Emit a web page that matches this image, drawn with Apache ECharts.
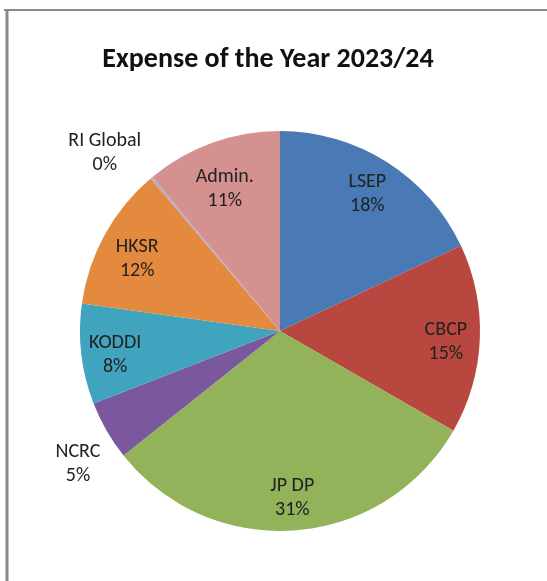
<!DOCTYPE html>
<html>
<head>
<meta charset="utf-8">
<title>Expense of the Year 2023/24</title>
<script src="https://cdn.jsdelivr.net/npm/echarts@6/dist/echarts.min.js"></script>
<style>
  html, body { margin: 0; padding: 0; background: #ffffff; }
  #chart { width: 547px; height: 581px; }
</style>
</head>
<body>
<div id="chart"></div>
<script>
// Expense shares (percent of the year's total), clockwise from 12 o'clock
const categories = ['LSEP', 'CBCP', 'JP DP', 'NCRC', 'KODDI', 'HKSR', 'RI Global', 'Admin.'];
const values = [18.0, 15.3, 31.0, 4.8, 8.1, 11.6, 0.2, 11.0];
const colors = ['#4a7ab6', '#b8473f', '#93b35a', '#7b579d', '#41a4bf', '#e48a3f', '#b9a9cc', '#d4918f'];
// Slices whose labels sit outside the pie
const outsideLabels = ['NCRC', 'RI Global'];

const titleText = 'Expense of the Year 2023/24';
const FONT = 'Carlito, Lato, "Noto Sans", sans-serif';

const center = [280, 331];
const R = 200;

// Small nudges so each label block sits nicely within its slice
const labelNudge = {
  'LSEP': [0, 1], 'CBCP': [3, 4], 'JP DP': [0, 4], 'NCRC': [13, 9],
  'KODDI': [-3, 5], 'HKSR': [0, 7], 'RI Global': [-16, 12], 'Admin.': [0, 11]
};

const pctLabel = p => p.name + '\n' + Math.round(p.percent) + '%';

const pieData = categories.map((name, i) => ({
  name, value: values[i], itemStyle: { color: colors[i] }
}));

// Label-only rings share the pie's data so labels follow the slice angles
const insideLabelData = categories.map((name, i) => ({
  name, value: values[i],
  label: { show: !outsideLabels.includes(name), offset: labelNudge[name] }
}));
const outsideLabelData = categories.map((name, i) => ({
  name, value: values[i],
  label: { show: outsideLabels.includes(name), offset: labelNudge[name] }
}));

const labelStyle = {
  position: 'inside',
  formatter: pctLabel,
  fontFamily: FONT,
  fontSize: 20,
  lineHeight: 24,
  color: '#222222'
};

const chart = echarts.init(document.getElementById('chart'), null, { renderer: 'canvas' });

chart.setOption({
  backgroundColor: '#ffffff',
  animation: false,
  title: {
    text: titleText,
    left: 263,
    top: 41,
    textAlign: 'center',
    textStyle: { fontFamily: FONT, fontSize: 28, fontWeight: 'bold', color: '#111111' }
  },
  graphic: [
    { type: 'line', shape: { x1: 4, y1: 10, x2: 547, y2: 10 }, style: { stroke: '#8a8a8a', lineWidth: 2 } },
    { type: 'line', shape: { x1: 7, y1: 9, x2: 7, y2: 581 }, style: { stroke: '#8a8a8a', lineWidth: 3 } }
  ],
  series: [
    {
      type: 'pie',
      center: center,
      radius: R,
      startAngle: 90,
      clockwise: true,
      minAngle: 0,
      avoidLabelOverlap: false,
      silent: true,
      label: { show: false },
      labelLine: { show: false },
      itemStyle: { borderWidth: 0 },
      data: pieData
    },
    {
      type: 'pie',
      center: center,
      radius: [125, 195],
      startAngle: 90,
      clockwise: true,
      avoidLabelOverlap: false,
      silent: true,
      itemStyle: { color: 'rgba(0,0,0,0)' },
      label: labelStyle,
      labelLine: { show: false },
      data: insideLabelData
    },
    {
      type: 'pie',
      center: center,
      radius: [225, 265],
      startAngle: 90,
      clockwise: true,
      avoidLabelOverlap: false,
      silent: true,
      itemStyle: { color: 'rgba(0,0,0,0)' },
      label: labelStyle,
      labelLine: { show: false },
      data: outsideLabelData
    }
  ]
});
</script>
</body>
</html>
